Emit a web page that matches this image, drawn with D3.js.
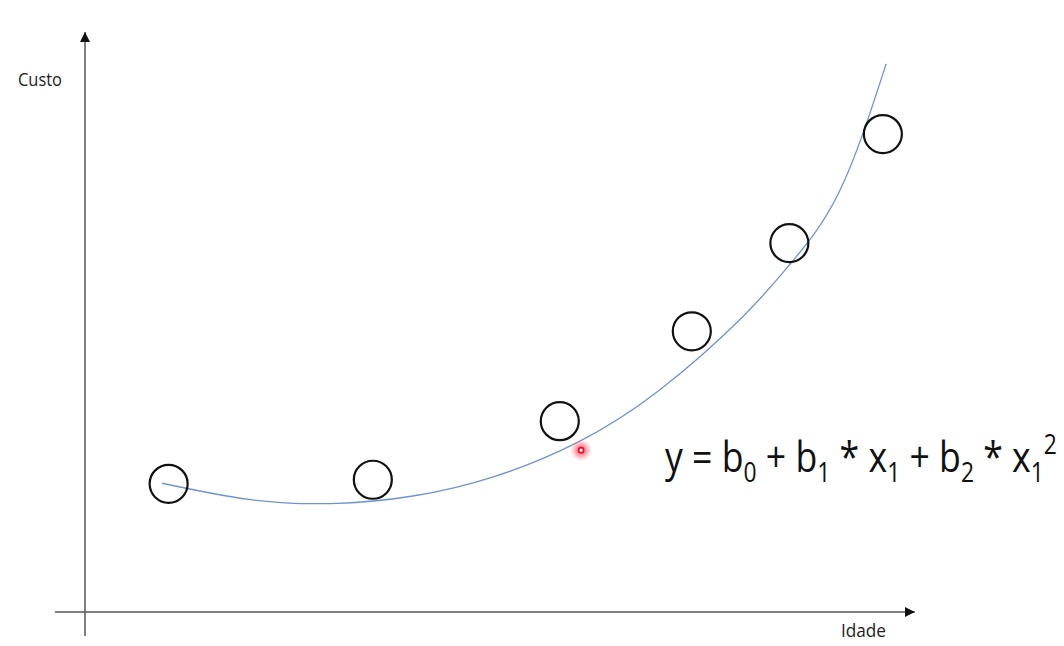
<!DOCTYPE html>
<html><head><meta charset="utf-8">
<script src="https://cdn.jsdelivr.net/npm/d3@7"></script>
<style>html,body{margin:0;padding:0;background:#fff;overflow:hidden}</style>
</head><body>
<svg id="c" width="1064" height="646"></svg>
<script>
// Data (Idade vs Custo, arbitrary units 0-100)
const pointIdade = [10.2, 35.1, 57.9, 74.0, 85.9, 97.3];
const pointCusto = [22.1, 22.8, 32.9, 48.4, 63.6, 82.4];
// Fitted polynomial curve
const curveIdade = [9.4, 20.0, 30.0, 40.0, 50.0, 60.0, 70.0, 80.0, 86.0, 92.0, 97.7];
const curveCusto = [22.2, 19.4, 18.7, 20.0, 23.4, 29.2, 38.2, 50.6, 60.0, 72.5, 94.5];
const cursorPoint = [60.5, 27.9];
const xAxisExtent = [-3.66, 101.2];
const yAxisExtent = [-4.14, 100];
const xLabel = "Idade", yLabel = "Custo";

const svg = d3.select("#c");
const x = d3.scaleLinear().domain([0, 100]).range([85, 905]);
const y = d3.scaleLinear().domain([0, 100]).range([612, 32]);

const defs = svg.append("defs");
defs.append("marker").attr("id", "arr").attr("viewBox", "0 0 10 10")
  .attr("refX", 10).attr("refY", 5).attr("markerWidth", 10).attr("markerHeight", 10)
  .attr("markerUnits", "userSpaceOnUse").attr("orient", "auto")
  .append("path").attr("d", "M0,0 L10,5 L0,10 Z").attr("fill", "#111");
const rg = defs.append("radialGradient").attr("id", "glow");
rg.append("stop").attr("offset", "0%").attr("stop-color", "#ff2030").attr("stop-opacity", 0.85);
rg.append("stop").attr("offset", "55%").attr("stop-color", "#ff5060").attr("stop-opacity", 0.45);
rg.append("stop").attr("offset", "100%").attr("stop-color", "#ff8080").attr("stop-opacity", 0);

// axes
svg.append("line").attr("x1", x(xAxisExtent[0])).attr("x2", x(xAxisExtent[1]))
  .attr("y1", y(0)).attr("y2", y(0)).attr("stroke", "#555").attr("stroke-width", 1.5)
  .attr("marker-end", "url(#arr)");
svg.append("line").attr("x1", x(0)).attr("x2", x(0))
  .attr("y1", y(yAxisExtent[0])).attr("y2", y(yAxisExtent[1])).attr("stroke", "#555").attr("stroke-width", 1.5)
  .attr("marker-end", "url(#arr)");

const font = "'Open Sans', 'Liberation Sans', sans-serif";
svg.append("text").attr("x", 18).attr("y", 86).attr("font-family", font).attr("font-size", 18)
  .attr("fill", "#222").attr("textLength", 44).attr("lengthAdjust", "spacingAndGlyphs").text(yLabel);
svg.append("text").attr("x", 841).attr("y", 637).attr("font-family", font).attr("font-size", 17.5)
  .attr("fill", "#222").attr("textLength", 45).attr("lengthAdjust", "spacingAndGlyphs").text(xLabel);

// curve
const pts = curveIdade.map((d, i) => [d, curveCusto[i]]);
svg.append("path").datum(pts)
  .attr("d", d3.line().x(d => x(d[0])).y(d => y(d[1])).curve(d3.curveNatural))
  .attr("fill", "none").attr("stroke", "#6f93cf").attr("stroke-width", 1.3);

// points
svg.selectAll("circle.pt").data(pointIdade.map((d, i) => [d, pointCusto[i]])).join("circle")
  .attr("class", "pt").attr("cx", d => x(d[0])).attr("cy", d => y(d[1])).attr("r", 19)
  .attr("fill", "none").attr("stroke", "#111").attr("stroke-width", 2.2);

// cursor highlight
svg.append("circle").attr("cx", x(cursorPoint[0])).attr("cy", y(cursorPoint[1])).attr("r", 11).attr("fill", "url(#glow)");
svg.append("circle").attr("cx", x(cursorPoint[0])).attr("cy", y(cursorPoint[1])).attr("r", 2.5)
  .attr("fill", "#fff").attr("stroke", "#e8102a").attr("stroke-width", 1.8);

// formula
const g = svg.append("g");
const t = g.append("text").attr("x", 0).attr("y", 0).attr("font-family", font).attr("font-size", 42).attr("fill", "#111");
const parts = [["y = b", 0], ["0", 1], [" + b", 0], ["1", 1], [" * x", 0], ["1", 1], [" + b", 0], ["2", 1], [" * x", 0], ["1", 1], ["2", 2]];
let prev = 0;
parts.forEach(([s, k]) => {
  const dy = k === 1 ? 10 : k === 2 ? -18 : 0;
  t.append("tspan").attr("dy", dy - prev).attr("font-size", k ? 27 : 42).text(s);
  prev = dy;
});
const bb = t.node().getBBox();
const sx = (1057 - 665) / bb.width;
g.attr("transform", `translate(${665 - bb.x * sx},472) scale(${sx},1)`);
</script>
</body></html>
